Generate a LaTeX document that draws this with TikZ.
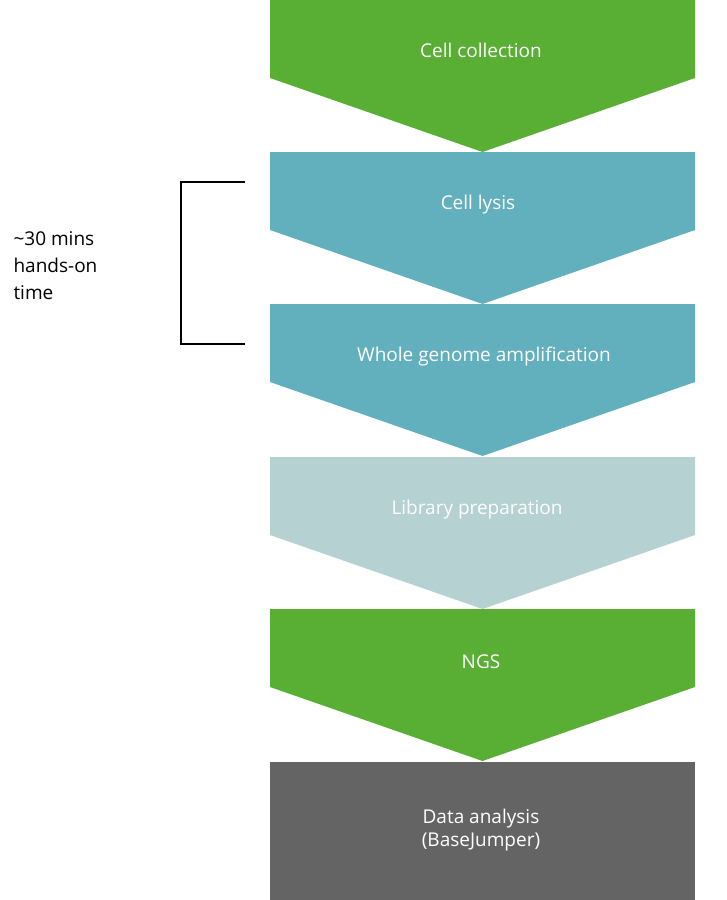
\documentclass[tikz,border=0pt]{standalone}
\usepackage{fontspec}
\setmainfont{Open Sans}
\definecolor{cgreen}{HTML}{59AE34}
\definecolor{cteal}{HTML}{62B0BD}
\definecolor{clight}{HTML}{B6D1D2}
\definecolor{cgray}{HTML}{646464}
\begin{document}
\begin{tikzpicture}[x=1pt,y=-1pt,
  lbl/.style={text=white,font=\fontsize{19}{23}\selectfont,align=center},
  side/.style={font=\fontsize{19}{27}\selectfont,align=left,anchor=west}]
\useasboundingbox (0,0) rectangle (726,900);
\newcommand{\chev}[2]{\fill[#1] (270,#2) -- (695,#2) -- (695,#2+78) -- (482.5,#2+152) -- (270,#2+78) -- cycle;}
\chev{cgreen}{0}
\chev{cteal}{152}
\chev{cteal}{304}
\chev{clight}{457}
\chev{cgreen}{609}
\fill[cgray] (270,762) rectangle (695,900);
\node[lbl] (a) at (481,50) {Cell collection};
\node[lbl] (b) at (478,205) {Cell lysis};
\node[lbl] (c) at (484,357) {Whole genome amplification};
\node[lbl] (d) at (477,510) {Library preparation};
\node[lbl] (e) at (481,662) {NGS};
\node[lbl] (f) at (481,830) {Data analysis\\(BaseJumper)};
\draw[line width=1.6pt] (245,182) -- (181,182) -- (181,344) -- (245,344);
\node[side] (t) at (10,266) {\textasciitilde30 mins\\hands-on\\time};
\end{tikzpicture}
\end{document}
